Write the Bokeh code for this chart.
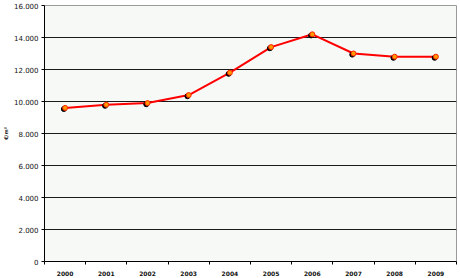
from bokeh.plotting import figure
from bokeh.models import FixedTicker, Range1d, ColumnDataSource
from bokeh.embed import file_html
from bokeh.resources import INLINE

years = ["2000", "2001", "2002", "2003", "2004", "2005", "2006", "2007", "2008", "2009"]
prices = [9600, 9800, 9900, 10400, 11800, 13400, 14200, 13000, 12800, 12800]
y_ticks = [0, 2000, 4000, 6000, 8000, 10000, 12000, 14000, 16000]
y_tick_labels = ["0", "2.000", "4.000", "6.000", "8.000", "10.000", "12.000", "14.000", "16.000"]
y_label = "€/m²"

xs = [i + 0.5 for i in range(len(years))]
src = ColumnDataSource(dict(x=xs, y=prices))
shadow = ColumnDataSource(dict(x=[v - 0.03 for v in xs], y=[v - 70 for v in prices]))

p = figure(width=460, height=278, output_backend="svg", toolbar_location=None,
           x_range=Range1d(0, len(years)), y_range=Range1d(0, 16000),
           min_border_left=36, min_border_right=4, min_border_top=5, min_border_bottom=16,
           background_fill_color="#f7f9f7", border_fill_color="#ffffff")
p.outline_line_color = "#9a9a9a"

p.xaxis.ticker = FixedTicker(ticks=xs, minor_ticks=list(range(len(years) + 1)))
p.xaxis.major_label_overrides = {x: y for x, y in zip(xs, years)}
p.xaxis.major_tick_line_color = None
p.xaxis.minor_tick_out = 3
p.xaxis.minor_tick_in = 0
p.xaxis.minor_tick_line_color = "black"
p.xaxis.axis_line_color = "black"
p.xaxis.major_label_text_font = "DejaVu Sans"
p.xaxis.major_label_text_font_size = "6px"
p.xaxis.major_label_text_font_style = "bold"
p.xaxis.major_label_text_color = "#111111"
p.xaxis.major_label_standoff = 3
p.xgrid.grid_line_color = None

p.yaxis.ticker = FixedTicker(ticks=y_ticks)
p.yaxis.major_label_overrides = {t: l for t, l in zip(y_ticks, y_tick_labels)}
p.yaxis.major_tick_out = 3
p.yaxis.major_tick_in = 0
p.yaxis.minor_tick_line_color = None
p.yaxis.axis_line_color = "black"
p.yaxis.major_label_text_font = "DejaVu Sans"
p.yaxis.major_label_text_font_size = "7px"
p.yaxis.major_label_text_color = "#111111"
p.yaxis.major_label_standoff = 3
p.yaxis.axis_label = y_label
p.yaxis.axis_label_text_font = "DejaVu Sans"
p.yaxis.axis_label_text_font_size = "5px"
p.yaxis.axis_label_text_font_style = "bold"
p.yaxis.axis_label_text_color = "#111111"
p.yaxis.axis_label_standoff = 2
p.ygrid.grid_line_color = "#1a1a1a"
p.ygrid.grid_line_width = 1.2

p.line("x", "y", source=src, line_color="#ff0000", line_width=2)
p.scatter("x", "y", source=shadow, size=5, fill_color="#000000", line_color="#000000")
p.scatter("x", "y", source=src, size=5, fill_color="#ff9900", line_color="#ff2200", line_width=1)

open("out.html", "w").write(file_html(p, INLINE))
